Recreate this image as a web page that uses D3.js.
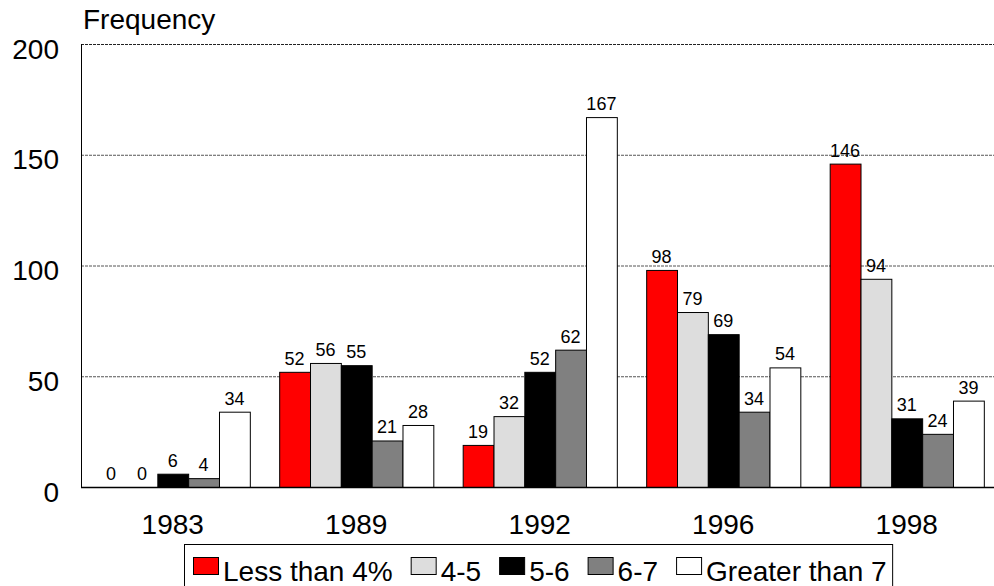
<!DOCTYPE html>
<html>
<head>
<meta charset="utf-8">
<script src="https://cdn.jsdelivr.net/npm/d3@7/dist/d3.min.js"></script>
<style>
  html, body { margin: 0; padding: 0; background: #fff; }
  svg { display: block; font-family: Arial, "Liberation Sans", sans-serif; }
</style>
</head>
<body>
<svg id="chart" width="994" height="586"></svg>
<script>
// Survey years on the x axis
const years = ["1983", "1989", "1992", "1996", "1998"];
// Rate bands (one bar each per year)
const bands = ["Less than 4%", "4-5", "5-6", "6-7", "Greater than 7"];
// Frequency per band, one array per band, in year order
const lessThan4 = [0, 52, 19, 98, 146];
const from4to5 = [0, 56, 32, 79, 94];
const from5to6 = [6, 55, 52, 69, 31];
const from6to7 = [4, 21, 62, 34, 24];
const greaterThan7 = [34, 28, 167, 54, 39];
const yTicks = [0, 50, 100, 150, 200];
const bandColors = ["#ff0000", "#dddddd", "#000000", "#808080", "#ffffff"];

const seriesValues = [lessThan4, from4to5, from5to6, from6to7, greaterThan7];

const svg = d3.select("#chart");
const plot = { left: 81, top: 44, right: 998.5, bottom: 487 };
const bigFont = 28;

const x0 = d3.scaleBand().domain(years)
  .range([plot.left, plot.right]).paddingInner(0.16).paddingOuter(0.08);
const x1 = d3.scaleBand().domain(bands).range([0, x0.bandwidth()]);
const y = d3.scaleLinear().domain([0, 200]).range([plot.bottom, plot.top]);
const color = d3.scaleOrdinal().domain(bands).range(bandColors);

// Dashed horizontal gridlines
svg.append("g").selectAll("line")
  .data(yTicks.filter(d => d > 0))
  .join("line")
  .attr("x1", plot.left).attr("x2", 994)
  .attr("y1", d => y(d) + 0.5).attr("y2", d => y(d) + 0.5)
  .attr("stroke", d => d === 200 ? "#222" : "#555")
  .attr("stroke-width", 1)
  .attr("stroke-dasharray", "3,1");

// Y axis labels
const yAxis = d3.axisLeft(y).tickValues(yTicks).tickSize(0).tickPadding(0);
const yg = svg.append("g").attr("transform", `translate(${plot.left - 22},0)`).call(yAxis);
yg.select(".domain").remove();
yg.selectAll("text")
  .attr("font-size", bigFont).attr("fill", "#000")
  .attr("font-family", "Arial, 'Liberation Sans', sans-serif")
  .attr("dy", "0.68em")
  .attr("y", -5);

// Bars
const groups = svg.append("g").selectAll("g")
  .data(years)
  .join("g")
  .attr("transform", d => `translate(${x0(d)},0)`);

groups.selectAll("rect")
  .data((yr, i) => bands.map((b, j) => ({ band: b, value: seriesValues[j][i] })))
  .join("rect")
  .attr("x", d => x1(d.band) + 0.5)
  .attr("y", d => y(d.value) + 0.5)
  .attr("width", x1.bandwidth())
  .attr("height", d => Math.max(0, y(0) - y(d.value)))
  .attr("fill", d => color(d.band))
  .attr("stroke", "#000")
  .attr("stroke-width", 1);

// Value labels above bars
groups.selectAll("text")
  .data((yr, i) => bands.map((b, j) => ({ band: b, value: seriesValues[j][i] })))
  .join("text")
  .attr("x", d => x1(d.band) + x1.bandwidth() / 2)
  .attr("y", d => y(d.value) - 7)
  .attr("text-anchor", "middle")
  .attr("font-size", 18)
  .text(d => d.value);

// Axis lines
svg.append("line")
  .attr("x1", plot.left + 0.5).attr("x2", plot.left + 0.5)
  .attr("y1", plot.top).attr("y2", plot.bottom + 0.5)
  .attr("stroke", "#000");
svg.append("line")
  .attr("x1", plot.left).attr("x2", 994)
  .attr("y1", plot.bottom + 0.5).attr("y2", plot.bottom + 0.5)
  .attr("stroke", "#000").attr("stroke-width", 1.5);

// Year labels
const xAxis = d3.axisBottom(x0).tickSize(0).tickPadding(0);
const xg = svg.append("g").attr("transform", `translate(0,${plot.bottom})`).call(xAxis);
xg.select(".domain").remove();
xg.selectAll("text")
  .attr("font-size", bigFont).attr("fill", "#000")
  .attr("font-family", "Arial, 'Liberation Sans', sans-serif")
  .attr("dy", null)
  .attr("y", 47);

// Axis title
svg.append("text")
  .attr("x", 83).attr("y", 29)
  .attr("font-size", bigFont)
  .text("Frequency");

// Legend
const legend = svg.append("g");
const legendBox = legend.append("rect")
  .attr("x", 184.5).attr("y", 544.5)
  .attr("height", 60)
  .attr("fill", "#fff").attr("stroke", "#000");
let cx = 193;
bands.forEach(b => {
  legend.append("rect")
    .attr("x", cx + 0.5).attr("y", 557.5)
    .attr("width", 25).attr("height", 17)
    .attr("fill", color(b)).attr("stroke", "#000");
  const t = legend.append("text")
    .attr("x", cx + 30).attr("y", 581)
    .attr("font-size", bigFont)
    .text(b);
  cx = cx + 30 + t.node().getComputedTextLength() + 18;
});
legendBox.attr("width", cx - 18 + 6 - 184.5);
</script>
</body>
</html>
